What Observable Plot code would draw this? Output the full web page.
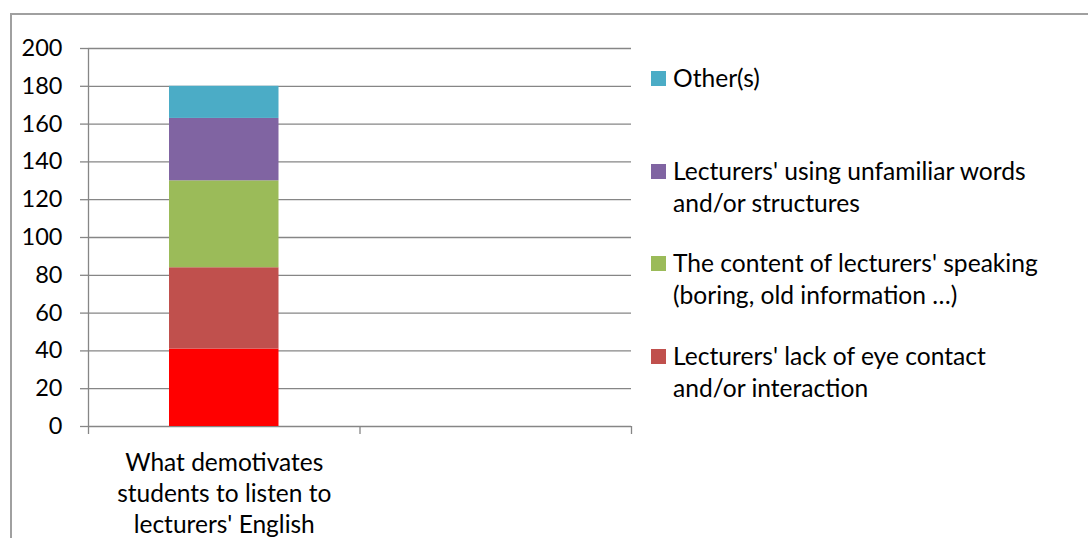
<!DOCTYPE html>
<html><head><meta charset="utf-8">
<script src="https://cdn.jsdelivr.net/npm/d3@7"></script>
<script src="https://cdn.jsdelivr.net/npm/@observablehq/plot@0.6"></script>
<style>
body{margin:0;background:#fff;font-family:Lato,"Open Sans",sans-serif;}
#wrap{position:relative;width:1088px;height:538px;overflow:hidden;background:#fff;}
#frame{position:absolute;left:10px;top:13px;width:1300px;height:800px;border:2px solid #a0a0a0;box-sizing:border-box;}
#chart{position:absolute;left:0;top:0;}
.entry{position:absolute;left:651px;font-size:24.6px;line-height:32px;color:#000;font-family:Lato,sans-serif;}
.sw{position:absolute;left:0;top:9px;width:15px;height:15px;}
.lbl{position:absolute;left:22px;top:0;white-space:pre;}
</style></head><body>
<div id="wrap"><div id="frame"></div><div id="chart"></div><div id="legend"></div></div>
<script>
// ---- data ----
const categories = ["What demotivates\nstudents to listen to\nlecturers' English", ""];
const seriesNames = [
  "",
  "Lecturers' lack of eye contact\nand/or interaction",
  "The content of lecturers' speaking\n(boring, old information …)",
  "Lecturers' using unfamiliar words\nand/or structures",
  "Other(s)"
];
const seriesValues = [41, 43, 46, 33, 17];
const yTicks = [0, 20, 40, 60, 80, 100, 120, 140, 160, 180, 200];

// ---- build table ----
const palette = ["#FF0000", "#C0504D", "#9BBB59", "#8064A2", "#4BACC6"];
let acc = 0;
const rows = seriesNames.map((s, i) => {
  const y1 = acc; acc += seriesValues[i];
  return {key: "s" + i, series: s, cat: 0, y1, y2: acc};
});
const catRows = categories.map((c, i) => ({label: c, x: i + 0.5})).filter(d => d.label);
const grey = "#868686";

const chart = Plot.plot({
  width: 660, height: 538,
  marginLeft: 88, marginRight: 29, marginTop: 48, marginBottom: 112,
  style: {fontFamily: "Lato, sans-serif", fontSize: "23.5px", color: "#000", background: "transparent"},
  x: {domain: [0, categories.length], axis: null},
  y: {domain: [0, 200], axis: null},
  color: {domain: rows.map(d => d.key), range: palette},
  marks: [
    Plot.gridY(yTicks, {stroke: grey, strokeOpacity: 1, strokeWidth: 1.3}),
    Plot.axisY({ticks: yTicks, tickSize: 8, tickPadding: 18, stroke: grey, strokeWidth: 1.3, fontSize: 23.5, fill: "#000", label: null}),
    Plot.rectY(rows, {x1: d => d.cat, x2: d => d.cat + 1, y1: "y1", y2: "y2", fill: "key", insetLeft: 81, insetRight: 81}),
    Plot.ruleX([0], {stroke: grey, strokeWidth: 1.3}),
    Plot.axisX({ticks: d3.range(categories.length + 1), tickSize: 8, tickFormat: () => "", stroke: grey, strokeWidth: 1.3, label: null}),
    Plot.text(catRows, {x: "x", y: () => 0, text: "label", lineAnchor: "top", dy: 22.5, fontSize: 24.5, lineHeight: 1.265, fill: "#000"})
  ]
});
document.getElementById("chart").appendChild(chart);

// ---- legend (series above the bottom one, top to bottom) ----
const legend = document.getElementById("legend");
const order = [4, 3, 2, 1];
order.forEach((si, k) => {
  const e = document.createElement("div");
  e.className = "entry";
  e.style.top = (62 + k * 92.5) + "px";
  const sw = document.createElement("div");
  sw.className = "sw"; sw.style.background = palette[si];
  const lb = document.createElement("div");
  lb.className = "lbl"; lb.textContent = seriesNames[si];
  e.appendChild(sw); e.appendChild(lb);
  legend.appendChild(e);
});
</script>
</body></html>
